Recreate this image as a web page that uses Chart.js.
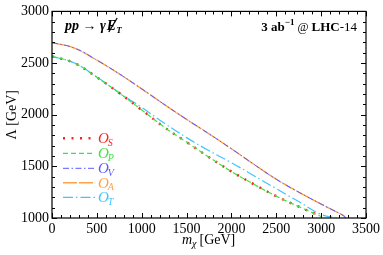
<!DOCTYPE html>
<html>
<head>
<meta charset="utf-8">
<script src="https://cdn.jsdelivr.net/npm/chart.js@4"></script>
<style>
  html, body { margin: 0; padding: 0; background: #fff; }
  #wrap { width: 383px; height: 255px; position: relative; }
</style>
</head>
<body>
<div id="wrap"><canvas id="canvas"></canvas></div>
<script>
// values (m_chi in GeV, Lambda in GeV)
const massLower = [0, 250, 500, 750, 1000, 1250, 1500, 1750, 2000, 2250, 2500, 2750, 3000]
const lambdaS = [2565, 2500, 2362, 2210, 2046, 1880, 1735, 1589, 1450, 1327, 1211, 1110, 1015]
const lambdaP = [2565, 2500, 2362, 2210, 2046, 1880, 1735, 1589, 1450, 1327, 1211, 1110, 1015]

const massT = [0, 250, 500, 750, 1000, 1250, 1500, 1750, 2000, 2250, 2500, 2750, 3000, 3170]
const lambdaT = [2565, 2500, 2365, 2212, 2071, 1919, 1778, 1652, 1535, 1410, 1284, 1159, 1035, 1000]

const massUpper = [0, 250, 500, 750, 1000, 1250, 1500, 1750, 2000, 2250, 2500, 2750, 3000, 3250, 3275]
const lambdaV = [2698, 2645, 2528, 2395, 2250, 2100, 1955, 1815, 1670, 1520, 1375, 1250, 1135, 1022, 1000]
const lambdaA = [2698, 2645, 2528, 2395, 2250, 2100, 1955, 1815, 1670, 1520, 1375, 1250, 1135, 1022, 1000]

const xTicks = [0, 500, 1000, 1500, 2000, 2500, 3000, 3500]
const yTicks = [1000, 1500, 2000, 2500, 3000]

const labels = ["S", "P", "V", "A", "T"]
const colors = ["#ff2020", "#3fe23f", "#5a5aff", "#ffa24a", "#40c4ff"]
const dashes = [[2, 6.5], [5, 3], [6, 2.5, 1.5, 2.5], [14, 2], [10, 3, 1.5, 3]]
const widths = [2.4, 1.2, 1, 1.4, 1.2]

const serif = "'Liberation Serif', 'DejaVu Serif', serif"

function pts(xs, ys) {
  return xs.map((x, i) => ({ x: x, y: ys[i] }))
}

function series(i, data) {
  return {
    label: labels[i],
    data: data,
    borderColor: colors[i],
    borderDash: dashes[i],
    borderWidth: widths[i],
    pointRadius: 0,
    fill: false,
    tension: 0.4
  }
}

// draw order: green under red, blue under orange
const datasets = [
  series(1, pts(massLower, lambdaP)),
  series(0, pts(massLower, lambdaS)),
  series(2, pts(massUpper, lambdaV)),
  series(3, pts(massUpper, lambdaA)),
  series(4, pts(massT, lambdaT))
]

const frame = {
  id: "frame",
  afterDatasetsDraw(chart) {
    const ctx = chart.ctx
    const a = chart.chartArea
    const xs = chart.scales.x
    const ys = chart.scales.y
    ctx.save()
    ctx.strokeStyle = "#000"
    ctx.lineWidth = 1
    ctx.beginPath()
    for (let v = 0; v <= 3500; v += 100) {
      const len = v % 500 == 0 ? 5 : 3
      const px = Math.round(xs.getPixelForValue(v)) + 0.5
      ctx.moveTo(px, a.bottom); ctx.lineTo(px, a.bottom - len)
      ctx.moveTo(px, a.top); ctx.lineTo(px, a.top + len)
    }
    for (let v = 1000; v <= 3000; v += 100) {
      const len = v % 500 == 0 ? 5 : 3
      const py = Math.round(ys.getPixelForValue(v)) + 0.5
      ctx.moveTo(a.left, py); ctx.lineTo(a.left + len, py)
      ctx.moveTo(a.right, py); ctx.lineTo(a.right - len, py)
    }
    ctx.stroke()
    ctx.lineWidth = 1.2
    ctx.strokeRect(a.left, a.top, a.right - a.left, a.bottom - a.top)

    // legend
    const rows = [138.3, 153.3, 168.3, 182.7, 197.3]
    for (let i = 0; i < labels.length; i++) {
      const y = rows[i]
      ctx.strokeStyle = colors[i]
      ctx.lineWidth = widths[i]
      ctx.setLineDash(dashes[i])
      ctx.beginPath()
      ctx.moveTo(63, y); ctx.lineTo(95, y)
      ctx.stroke()
      ctx.setLineDash([])
      ctx.fillStyle = colors[i]
      ctx.textBaseline = "alphabetic"
      ctx.font = "italic 15px " + serif
      ctx.fillText("O", 98, y + 5)
      const w = ctx.measureText("O").width
      ctx.font = "italic 10px " + serif
      ctx.fillText(labels[i], 98 + w - 1, y + 7.5)
    }

    // process label
    ctx.fillStyle = "#000"
    ctx.font = "bold italic 14px " + serif
    let x = 65
    const base = 30
    ctx.fillText("pp \u2192 \u03b3", x, base)
    x += ctx.measureText("pp \u2192 \u03b3").width + 1
    ctx.fillText("E", x, base)
    const ew = ctx.measureText("E").width
    ctx.strokeStyle = "#000"
    ctx.lineWidth = 1.3
    ctx.beginPath()
    ctx.moveTo(x + 2, base + 2); ctx.lineTo(x + ew + 1, base - 12)
    ctx.stroke()
    x += ew
    ctx.font = "bold italic 9px " + serif
    ctx.fillText("T", x, base + 3)

    // luminosity label, right aligned
    const parts = [
      ["3 ab", "bold 13px " + serif, 0],
      ["\u22121", "bold 9px " + serif, -6],
      [" @ ", "12px " + serif, 0],
      ["LHC", "bold 13px " + serif, 0],
      ["-14", "13px " + serif, 0]
    ]
    let total = 0
    for (const p of parts) { ctx.font = p[1]; total += ctx.measureText(p[0]).width }
    x = 357 - total
    for (const p of parts) {
      ctx.font = p[1]
      ctx.fillText(p[0], x, 31 + p[2])
      x += ctx.measureText(p[0]).width
    }

    // x axis title with subscript chi
    x = 182
    ctx.font = "italic 14px " + serif
    ctx.fillText("m", x, 244)
    x += ctx.measureText("m").width
    ctx.font = "italic 10px " + serif
    ctx.fillText("\u03c7", x, 247)
    x += ctx.measureText("\u03c7").width + 3
    ctx.font = "14px " + serif
    ctx.fillText("[GeV]", x, 244)
    ctx.restore()
  }
}

new Chart(document.getElementById("canvas"), {
  type: "line",
  data: { datasets: datasets },
  plugins: [frame],
  options: {
    responsive: true,
    maintainAspectRatio: false,
    animation: false,
    layout: { padding: { top: 8, right: 17, left: 4, bottom: 0 } },
    plugins: { legend: { display: false }, tooltip: { enabled: false } },
    scales: {
      x: {
        type: "linear",
        min: 0,
        max: 3500,
        afterBuildTicks: s => { s.ticks = xTicks.map(v => ({ value: v })) },
        afterFit: s => { s.height = 37 },
        grid: { display: false, drawTicks: false },
        border: { display: false },
        ticks: { color: "#000", font: { family: serif, size: 14 }, padding: 3, maxRotation: 0, callback: v => String(v) },
        title: { display: false }
      },
      y: {
        type: "linear",
        min: 1000,
        max: 3000,
        afterBuildTicks: s => { s.ticks = yTicks.map(v => ({ value: v })) },
        afterFit: s => { s.width = 48 },
        grid: { display: false, drawTicks: false },
        border: { display: false },
        ticks: { color: "#000", font: { family: serif, size: 14 }, padding: 3, callback: v => String(v) },
        title: { display: true, text: "\u039b [GeV]", color: "#000", font: { family: serif, size: 14 }, padding: 0 }
      }
    }
  }
})
</script>
</body>
</html>
